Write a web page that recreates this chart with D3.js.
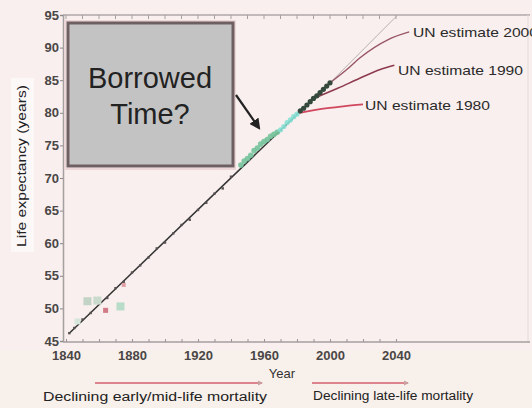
<!DOCTYPE html>
<html>
<head>
<meta charset="utf-8">
<script src="https://cdn.jsdelivr.net/npm/d3@7"></script>
<style>
  html, body { margin: 0; padding: 0; background: #f8efee; }
  svg { display: block; font-family: "Liberation Sans", Arial, sans-serif; }
</style>
</head>
<body>
<svg id="chart" width="532" height="408"></svg>
<script>
// Record life expectancy, trend line and UN projections
const recordYears  = [1842, 1845, 1850, 1855, 1860, 1865, 1870, 1875, 1880, 1885, 1890, 1895, 1900, 1905, 1910, 1915, 1920, 1925, 1930, 1935, 1940];
const recordValues = [46.2, 47.0, 48.3, 49.3, 50.8, 51.6, 53.1, 54.0, 55.5, 56.6, 57.8, 59.2, 60.1, 61.5, 62.8, 63.6, 65.1, 66.2, 67.6, 68.4, 70.2];

const greenYears  = [1946, 1948, 1950, 1952, 1954, 1956, 1958, 1960, 1962, 1964, 1966, 1968];
const greenValues = [72.0, 72.6, 73.0, 73.5, 74.2, 74.6, 75.2, 75.6, 75.9, 76.4, 76.7, 77.0];

const cyanYears  = [1970, 1972, 1974, 1976, 1978, 1980];
const cyanValues = [77.4, 77.9, 78.5, 78.9, 79.4, 79.8];

const darkYears  = [1982, 1984, 1986, 1988, 1990, 1992, 1994, 1996, 1998, 2000];
const darkValues = [80.3, 80.7, 81.2, 81.7, 82.2, 82.6, 83.1, 83.6, 84.1, 84.6];

// scattered early observations
const earlyYears  = [1847, 1853, 1859, 1864, 1873, 1875];
const earlyValues = [48.0, 51.1, 51.2, 49.7, 50.3, 53.6];
const earlyColors = ["#d6e6da", "#c3d3c6", "#cadbcd", "#d27a86", "#b8dcc8", "#dfa0a6"];
const earlySizes  = [6, 8, 8, 5, 8, 4];

const trendYears  = [1842, 2000];
const trendValues = [46.2, 84.6];
const extYears  = [2000, 2041];
const extValues = [84.6, 95];

const un1980Years  = [1980, 1995, 2008, 2020];
const un1980Values = [79.9, 80.6, 81.0, 81.3];
const un1990Years  = [1990, 2005, 2018, 2030, 2039];
const un1990Values = [82.2, 83.8, 85.3, 86.6, 87.3];
const un2000Years  = [2000, 2010, 2018, 2035, 2048];
const un2000Values = [84.6, 86.6, 88.4, 91.2, 92.4];

const xTicks = [1840, 1880, 1920, 1960, 2000, 2040];
const yTicks = [45, 50, 55, 60, 65, 70, 75, 80, 85, 90, 95];

const svg = d3.select("#chart");
const x = d3.scaleLinear().domain([1840, 2040]).range([66, 396]);
const y = d3.scaleLinear().domain([45, 95]).range([341, 15]);

// backgrounds
svg.append("rect").attr("x", 0).attr("y", 0).attr("width", 532).attr("height", 408).attr("fill", "#f8efee");
svg.append("rect").attr("x", 0).attr("y", 350).attr("width", 532).attr("height", 58).attr("fill", "#f8f0ea");
svg.append("rect").attr("x", 11).attr("y", 78).attr("width", 23).attr("height", 174).attr("fill", "#fcf8f8");

// frame: top and right edges
svg.append("line").attr("x1", 63).attr("x2", 530).attr("y1", 15).attr("y2", 15).attr("stroke", "#b0a8a8").attr("stroke-width", 1.5);
svg.append("line").attr("x1", 528).attr("x2", 528).attr("y1", 15).attr("y2", 343).attr("stroke", "#e2dada").attr("stroke-width", 1);
svg.append("line").attr("x1", 63).attr("x2", 530).attr("y1", y(45) + 1).attr("y2", y(45) + 1).attr("stroke", "#a59f9f").attr("stroke-width", 1.5);

// x axis
const xAxis = d3.axisBottom(x).tickValues(d3.range(1840, 2041, 10)).tickSize(4)
  .tickFormat(d => xTicks.includes(d) ? d : "");
const gx = svg.append("g").attr("transform", `translate(0,${y(45) + 1})`).call(xAxis);
gx.select(".domain").remove();
gx.selectAll(".tick line").attr("stroke", "#9a9494").attr("y2", -3);
gx.selectAll(".tick text").attr("y", 9).attr("font-size", 13).attr("font-weight", "bold").attr("fill", "#4a4646").attr("dy", "0.71em");

// top mirror ticks
svg.append("g").selectAll("line").data(d3.range(1840, 2041, 10)).join("line")
  .attr("x1", d => x(d)).attr("x2", d => x(d)).attr("y1", 15).attr("y2", 19).attr("stroke", "#a8a0a0");

// y axis
const yAxis = d3.axisLeft(y).tickValues(yTicks).tickSize(3);
const gy = svg.append("g").attr("transform", "translate(63,0)").call(yAxis);
gy.select(".domain").attr("stroke", "#a59f9f").attr("stroke-width", 1.5);
gy.selectAll(".tick line").attr("stroke", "#8c8686");
gy.selectAll(".tick text").attr("x", -4).attr("font-size", 13).attr("font-weight", "bold").attr("fill", "#4a4646");

// axis titles
svg.append("text").attr("x", 282).attr("y", 378).attr("text-anchor", "middle")
  .attr("font-size", 13).attr("fill", "#333").text("Year");
svg.append("text").attr("transform", "translate(26,166) rotate(-90)").attr("text-anchor", "middle")
  .attr("font-size", 12).attr("fill", "#222").attr("textLength", 162).attr("lengthAdjust", "spacingAndGlyphs")
  .text("Life expectancy (years)");

const line = d3.line().x(d => x(d[0])).y(d => y(d[1]));
const curve = d3.line().x(d => x(d[0])).y(d => y(d[1])).curve(d3.curveMonotoneX);
const pairs = (xs, vs) => xs.map((v, i) => [v, vs[i]]);

// projections
svg.append("path").attr("d", line(pairs(extYears, extValues))).attr("fill", "none").attr("stroke", "#b8b0b0").attr("stroke-width", 1);
svg.append("path").attr("d", curve(pairs(un2000Years, un2000Values))).attr("fill", "none").attr("stroke", "#9a5565").attr("stroke-width", 1.4);
svg.append("path").attr("d", curve(pairs(un1990Years, un1990Values))).attr("fill", "none").attr("stroke", "#8e3b4e").attr("stroke-width", 1.5);
svg.append("path").attr("d", curve(pairs(un1980Years, un1980Values))).attr("fill", "none").attr("stroke", "#d0475e").attr("stroke-width", 1.8);

// trend line
svg.append("path").attr("d", line(pairs(trendYears, trendValues))).attr("fill", "none").attr("stroke", "#333").attr("stroke-width", 1.5);

// record points
svg.append("g").selectAll("rect").data(pairs(recordYears, recordValues)).join("rect")
  .attr("x", d => x(d[0]) - 1.2).attr("y", d => y(d[1]) - 1.2).attr("width", 2.4).attr("height", 2.4).attr("fill", "#5a5252");
svg.append("g").selectAll("rect").data(pairs(earlyYears, earlyValues)).join("rect")
  .attr("x", (d, i) => x(d[0]) - earlySizes[i] / 2).attr("y", (d, i) => y(d[1]) - earlySizes[i] / 2)
  .attr("width", (d, i) => earlySizes[i]).attr("height", (d, i) => earlySizes[i])
  .attr("fill", (d, i) => earlyColors[i]);
svg.append("g").selectAll("circle").data(pairs(greenYears, greenValues)).join("circle")
  .attr("cx", d => x(d[0])).attr("cy", d => y(d[1])).attr("r", 2.8).attr("fill", "#74c29a").attr("opacity", 0.9);
svg.append("g").selectAll("circle").data(pairs(cyanYears, cyanValues)).join("circle")
  .attr("cx", d => x(d[0])).attr("cy", d => y(d[1])).attr("r", 2.6).attr("fill", "#86e0d4").attr("opacity", 0.9);
svg.append("g").selectAll("circle").data(pairs(darkYears, darkValues)).join("circle")
  .attr("cx", d => x(d[0])).attr("cy", d => y(d[1])).attr("r", 2.6).attr("fill", "#34483c");

// projection labels
const unLabels = [
  { text: "UN estimate 2000", x: 413, y: 37 },
  { text: "UN estimate 1990", x: 398, y: 75 },
  { text: "UN estimate 1980", x: 365, y: 110 }
];
svg.append("g").selectAll("text").data(unLabels).join("text")
  .attr("x", d => d.x).attr("y", d => d.y).attr("font-size", 13).attr("fill", "#2a2a2a")
  .attr("textLength", 125).attr("lengthAdjust", "spacingAndGlyphs").text(d => d.text);

// callout box
svg.append("rect").attr("x", 65).attr("y", 21).attr("width", 170).attr("height", 148)
  .attr("fill", "none").attr("stroke", "#ecd6d7").attr("stroke-width", 2);
svg.append("rect").attr("x", 68).attr("y", 23).attr("width", 165).attr("height", 143)
  .attr("fill", "#c4c3c3").attr("stroke", "#6e6062").attr("stroke-width", 3);
svg.append("text").attr("x", 150).attr("y", 88).attr("text-anchor", "middle").attr("font-size", 29).attr("fill", "#222").text("Borrowed");
svg.append("text").attr("x", 150).attr("y", 124).attr("text-anchor", "middle").attr("font-size", 29).attr("fill", "#222").text("Time?");

// arrow from box to the record cluster
svg.append("defs").append("marker").attr("id", "head").attr("viewBox", "0 0 10 10").attr("refX", 8).attr("refY", 5)
  .attr("markerWidth", 5).attr("markerHeight", 5).attr("orient", "auto")
  .append("path").attr("d", "M0,0L10,5L0,10Z").attr("fill", "#222");
svg.append("line").attr("x1", 236).attr("y1", 95).attr("x2", 259).attr("y2", 128)
  .attr("stroke", "#222").attr("stroke-width", 2.2).attr("marker-end", "url(#head)");

// bottom mortality arrows and captions
svg.append("defs").append("marker").attr("id", "head2").attr("viewBox", "0 0 10 10").attr("refX", 8).attr("refY", 5)
  .attr("markerWidth", 4).attr("markerHeight", 4).attr("orient", "auto")
  .append("path").attr("d", "M0,0L10,5L0,10Z").attr("fill", "#c9a0a0");
svg.append("line").attr("x1", 95).attr("x2", 262).attr("y1", 383).attr("y2", 383).attr("stroke", "#d46070").attr("stroke-width", 1.3).attr("marker-end", "url(#head2)");
svg.append("line").attr("x1", 312).attr("x2", 408).attr("y1", 383).attr("y2", 383).attr("stroke", "#d46070").attr("stroke-width", 1.3).attr("marker-end", "url(#head2)");
svg.append("text").attr("x", 43).attr("y", 401).attr("font-size", 12).attr("fill", "#222")
  .attr("textLength", 224).attr("lengthAdjust", "spacingAndGlyphs").text("Declining early/mid-life mortality");
svg.append("text").attr("x", 313).attr("y", 400).attr("font-size", 12).attr("fill", "#222")
  .attr("textLength", 160).attr("lengthAdjust", "spacingAndGlyphs").text("Declining late-life mortality");
</script>
</body>
</html>
